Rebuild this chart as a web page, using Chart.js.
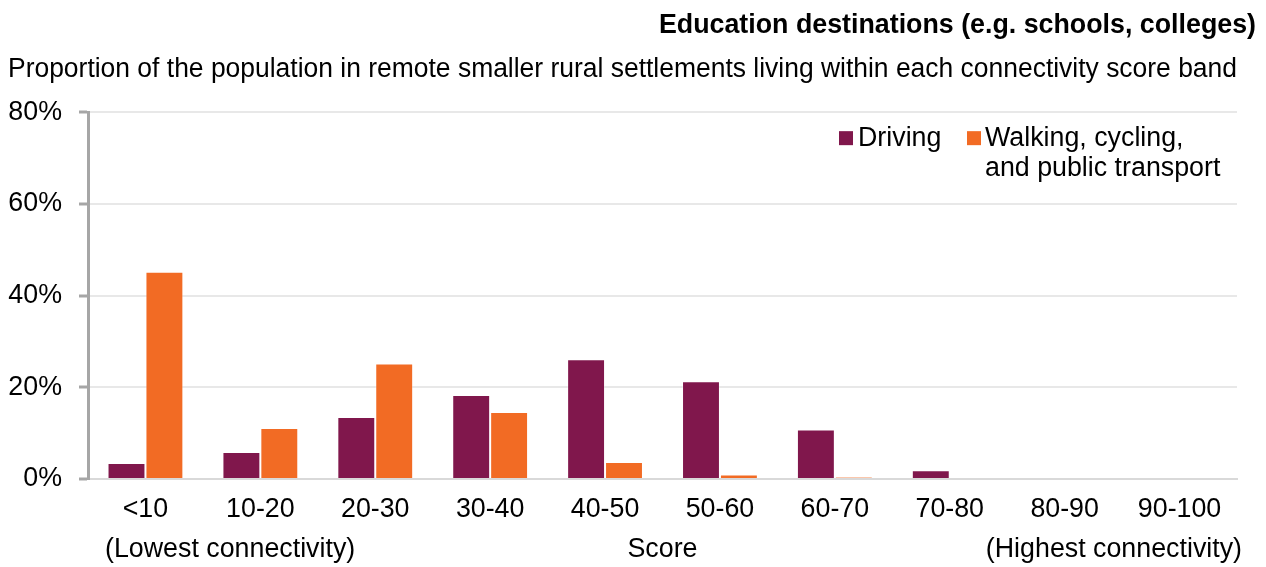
<!DOCTYPE html>
<html>
<head>
<meta charset="utf-8">
<script src="https://cdn.jsdelivr.net/npm/chart.js@4"></script>
<style>
  html, body { margin: 0; padding: 0; background: #fff; }
  #wrap { width: 1266px; height: 567px; position: relative; }
</style>
</head>
<body>
<div id="wrap"><canvas id="eduChart"></canvas></div>
<script>
const bands = ['<10','10-20','20-30','30-40','40-50','50-60','60-70','70-80','80-90','90-100'];
const driving = [3.5, 5.9, 13.5, 18.3, 26.1, 21.3, 10.8, 1.9, 0, 0];
const walking = [45.2, 11.1, 25.2, 14.6, 3.7, 1.0, 0.4, 0, 0, 0];
const yTicks = [0, 20, 40, 60, 80];

const FONT = 'Liberation Sans, Arial, sans-serif';
const FS = 26.8;
const C_DRIVE = '#80174C';
const C_WALK = '#F26B24';

// title (right-aligned to the page), legend and the two end notes under the axis
const extras = {
  id: 'extras',
  afterDraw(chart) {
    const { ctx, chartArea } = chart;
    ctx.save();
    ctx.textBaseline = 'middle';
    ctx.fillStyle = '#000';
    ctx.font = 'bold ' + FS + 'px ' + FONT;
    ctx.textAlign = 'right';
    ctx.fillText('Education destinations (e.g. schools, colleges)', chart.width - 10, 26);

    ctx.font = FS + 'px ' + FONT;
    ctx.textAlign = 'left';
    const lx = chartArea.right - 398, ly = chartArea.top + 26;
    ctx.fillStyle = C_DRIVE; ctx.fillRect(lx, ly - 7, 14, 14);
    ctx.fillStyle = '#000'; ctx.fillText('Driving', lx + 19, ly);
    const wx = lx + 128;
    ctx.fillStyle = C_WALK; ctx.fillRect(wx, ly - 7, 14, 14);
    ctx.fillStyle = '#000';
    ctx.fillText('Walking, cycling,', wx + 18, ly);
    ctx.fillText('and public transport', wx + 18, ly + 30);

    const by = chartArea.bottom + 71;
    ctx.fillText('(Lowest connectivity)', 105, by);
    ctx.textAlign = 'right';
    ctx.fillText('(Highest connectivity)', chart.width - 24, by);
    ctx.restore();
  }
};

new Chart(document.getElementById('eduChart'), {
  type: 'bar',
  data: {
    labels: bands,
    datasets: [
      { label: 'Driving', data: driving, backgroundColor: C_DRIVE, borderColor: 'rgba(255,255,255,0.35)', borderWidth: 1 },
      { label: 'Walking, cycling, and public transport', data: walking, backgroundColor: C_WALK, borderColor: 'rgba(255,255,255,0.35)', borderWidth: 1 }
    ]
  },
  options: {
    responsive: true, maintainAspectRatio: false, animation: false,
    layout: { padding: { left: 8, right: 29, top: 0, bottom: 1 } },
    datasets: { bar: { categoryPercentage: 0.66, barPercentage: 1 } },
    scales: {
      x: {
        afterFit(s) { s.height = 87; },
        grid: { display: false, drawTicks: false },
        border: { color: '#D9D9D9', width: 2 },
        ticks: { color: '#000', font: { family: FONT, size: FS }, padding: 15, maxRotation: 0 },
        title: { display: true, text: 'Score', color: '#000', font: { family: FONT, size: FS }, padding: { top: 9, bottom: 0 } }
      },
      y: {
        min: 0, max: 80,
        afterBuildTicks(s) { s.ticks = yTicks.map(v => ({ value: v })); },
        afterFit(s) { s.width = 80; },
        grid: { color: ctx => ctx.tick.value === 0 ? '#D9D9D9' : '#E8E8E8', lineWidth: 2, tickLength: 9, tickColor: '#A6A6A6', tickWidth: 3 },
        border: { color: '#A6A6A6', width: 3 },
        ticks: { color: '#000', font: { family: FONT, size: FS }, padding: 17, callback: v => v + '%' }
      }
    },
    plugins: {
      legend: { display: false },
      tooltip: { enabled: false },
      title: { display: false },
      subtitle: {
        display: true, align: 'start', text: 'Proportion of the population in remote smaller rural settlements living within each connectivity score band',
        color: '#000', font: { family: FONT, size: FS }, padding: { top: 54, bottom: 26 }
      }
    }
  },
  plugins: [extras]
});
</script>
</body>
</html>
